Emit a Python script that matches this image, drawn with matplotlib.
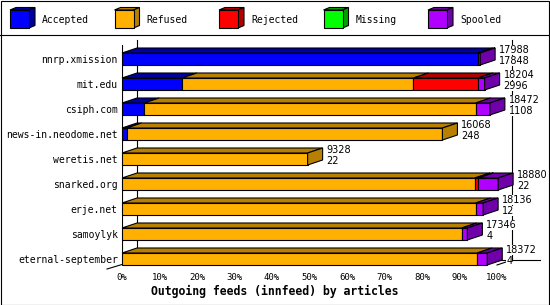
import matplotlib
matplotlib.use('Agg')
import matplotlib.pyplot as plt
from matplotlib.patches import Polygon, Rectangle
from matplotlib.lines import Line2D

# feeds, top to bottom
hosts = ['nnrp.xmission', 'mit.edu', 'csiph.com', 'news-in.neodome.net',
         'weretis.net', 'snarked.org', 'erje.net', 'samoylyk',
         'eternal-september']
offered = [17988, 18204, 18472, 16068, 9328, 18880, 18136, 17346, 18372]
accepted_n = [17848, 2996, 1108, 248, 22, 22, 12, 4, 4]

# bar segments (percent)
accepted = [94.9, 16.0, 5.9, 1.25, 0, 0, 0, 0, 0]
refused = [0, 61.7, 88.4, 84.2, 49.5, 94.1, 94.3, 90.6, 94.7]
rejected = [0, 17.2, 0, 0, 0, 0.9, 0, 0, 0]
missing = [0, 0, 0, 0, 0, 0, 0, 0, 0]
spooled = [0.6, 1.8, 3.8, 0, 0, 5.3, 2.0, 1.5, 2.7]

series = ['Accepted', 'Refused', 'Rejected', 'Missing', 'Spooled']
values = [accepted, refused, rejected, missing, spooled]
front_colors = ['#0000ff', '#ffb000', '#ff0000', '#00ff00', '#b000ff']
dark_colors = ['#0000a0', '#b88000', '#b00000', '#00a000', '#7000aa']
ticks = list(range(0, 101, 10))

W, H = 550, 305
MONO = 'DejaVu Sans Mono'
LW = 0.8

fig = plt.figure(figsize=(W / 100, H / 100), dpi=100)
fig.patch.set_facecolor('white')

# main plot, front plane
ax = fig.add_axes([122 / W, 40 / H, 375 / W, 220 / H])
ax.set_xlim(0, 100)
ax.set_ylim(len(hosts) - 1 + 0.24, -0.56)
for s in ax.spines.values():
    s.set_visible(False)

# 3d depth in data units (15 px right, 5 px up)
px_x = 375 / 100.0
px_y = 220 / 8.8
dx = 15 / px_x
dy = 5 / px_y
bh = 12 / px_y
ytop, ybot = ax.get_ylim()[1], ax.get_ylim()[0]

# walls / floor
ax.axvline(0, color='black', lw=LW, zorder=2)
ax.plot([dx, dx], [ytop - dy, ybot - dy], color='black', lw=LW, zorder=1, clip_on=False)
ax.plot([100 + dx, 100 + dx], [ytop - dy, ybot - dy], color='black', lw=LW, zorder=1, clip_on=False)
ax.plot([-dx, dx], [ybot + 0.8 * dy, ybot - dy], color='black', lw=LW, zorder=1, clip_on=False)
ax.plot([100, 100 + dx], [ybot, ybot - dy], color='black', lw=LW, zorder=1, clip_on=False)
ax.plot([dx, 100 + dx + 28 / px_x], [ybot - dy, ybot - dy], color='black', lw=LW, zorder=1, clip_on=False)

for i in range(len(hosts)):
    yt = i - bh / 2
    yb = i + bh / 2
    left = 0
    last = None
    for k in range(len(series)):
        w = values[k][i]
        if w <= 0:
            continue
        ax.barh(i, w, left=left, height=bh, color=front_colors[k],
                edgecolor='black', lw=LW, zorder=3, clip_on=False)
        ax.add_patch(Polygon([(left, yt), (left + w, yt), (left + w + dx, yt - dy),
                              (left + dx, yt - dy)], closed=True, fc=dark_colors[k],
                             ec='black', lw=LW, zorder=3, clip_on=False))
        left += w
        last = k
    ax.add_patch(Polygon([(left, yt), (left + dx, yt - dy), (left + dx, yb - dy),
                          (left, yb)], closed=True, fc=dark_colors[last],
                         ec='black', lw=LW, zorder=4, clip_on=False))
    for txt, oy in ((offered[i], 9), (accepted_n[i], -2)):
        ax.annotate(str(txt), xy=(left, i), xytext=(19, oy),
                    textcoords='offset pixels', ha='left', va='center', fontsize=7,
                    zorder=5, annotation_clip=False,
                    bbox=dict(fc='white', ec='none', pad=0))

ax.set_yticks(range(len(hosts)))
ax.set_yticklabels(hosts, fontfamily=MONO, fontsize=7)
ax.set_xticks(ticks)
ax.set_xticklabels([str(t) + '%' for t in ticks], fontfamily=MONO, fontsize=6.5)
ax.tick_params(axis='y', length=0, pad=3)
ax.tick_params(axis='x', length=0, pad=5.5)

fig.text(0.5, 1 - 291 / H, 'Outgoing feeds (innfeed) by articles', ha='center',
         va='center', fontfamily=MONO, fontweight='bold', fontsize=8.3)

# legend strip
lax = fig.add_axes([0, 1 - 35 / H, 1, 35 / H])
lax.set_xlim(0, W)
lax.set_ylim(35, 0)
lax.axis('off')
for k, name in enumerate(series):
    x0 = 10 + k * 104.5
    lax.add_patch(Polygon([(x0, 10), (x0 + 19, 10), (x0 + 25, 7.5), (x0 + 6, 7.5)],
                          closed=True, fc=dark_colors[k], ec='black', lw=LW))
    lax.add_patch(Polygon([(x0 + 19, 10), (x0 + 25, 7.5), (x0 + 25, 25.5), (x0 + 19, 28)],
                          closed=True, fc=dark_colors[k], ec='black', lw=LW))
    lax.add_patch(Rectangle((x0, 10), 19, 18, fc=front_colors[k], ec='black', lw=LW))
    lax.text(x0 + 32, 20, name, ha='left', va='center', fontfamily=MONO, fontsize=7)

# frame and separator
fig.add_artist(Rectangle((0.5 / W, 0.5 / H), 1 - 1.5 / W, 1 - 1.5 / H, transform=fig.transFigure,
                         fill=False, ec='black', lw=LW))
fig.add_artist(Line2D([0, 1], [1 - 35 / H, 1 - 35 / H], transform=fig.transFigure,
                      color='black', lw=LW))

fig.savefig('out.png', dpi=100)
